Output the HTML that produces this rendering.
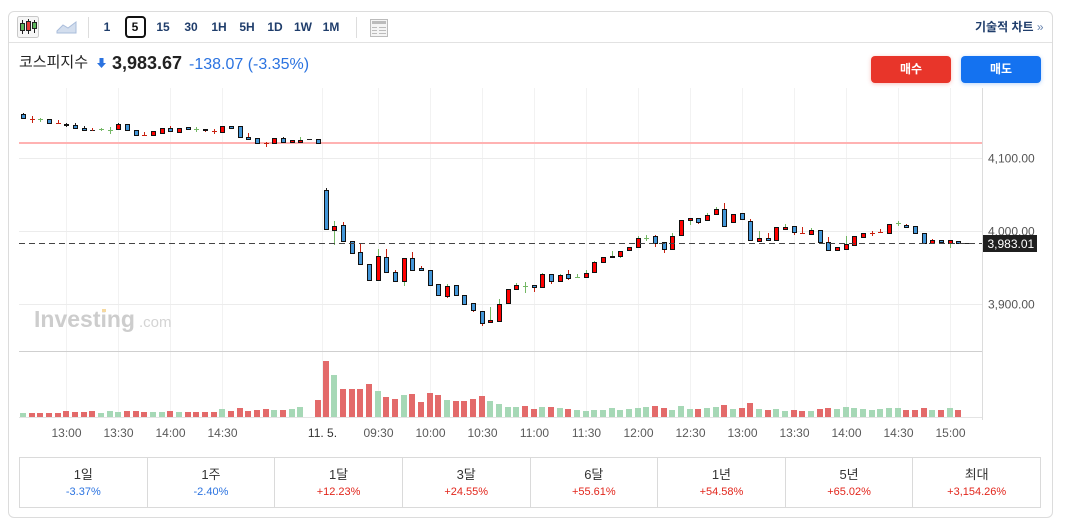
<!DOCTYPE html>
<html><head><meta charset="utf-8">
<style>
*{margin:0;padding:0;box-sizing:border-box}
body{width:1066px;height:527px;background:#fff;position:relative;overflow:hidden;font-family:"Liberation Sans","Noto Sans CJK KR",sans-serif}
.card{position:absolute;left:8px;top:11px;width:1045px;height:507px;border:1px solid #dcdcdc;border-radius:6px}
.tb{position:absolute;left:9px;top:42px;width:1043px;height:1px;background:#e2e2e2}
.t{position:absolute;font-weight:bold;font-size:12px;color:#1f3d6b;line-height:14px;top:20px;transform:translateX(-50%)}
.box5{position:absolute;left:125px;top:16px;width:21px;height:22px;border:2px solid #111;border-radius:4px}
.sep{position:absolute;top:17px;width:1px;height:21px;background:#ddd}
.btn{position:absolute;top:56px;width:80px;height:27px;border-radius:4px;color:#fff;font-weight:bold;font-size:12px;line-height:27px;text-align:center}
.tbl{position:absolute;left:19px;top:457px;width:1022px;height:51px;border:1px solid #dadada;display:flex}
.c{flex:1;border-left:1px solid #dadada;text-align:center}
.c:first-child{border-left:none}
.c .l{font-size:13px;color:#333;margin-top:9px;line-height:16px}
.c .p{font-size:11px;line-height:14px;margin-top:2px}
.bl{color:#2b73e0}.rd{color:#e2261c}
</style></head><body>
<div class="card"></div>
<div class="tb"></div>

<!-- toolbar -->
<svg style="position:absolute;left:17px;top:16px" width="22" height="22" viewBox="0 0 22 22">
<rect x="0.5" y="0.5" width="21" height="21" rx="2" fill="#f6f6f6" stroke="#c8c8c8"/>
<path d="M5.5 4V18M11.5 3V18M17.5 4V17" stroke="#222"/>
<rect x="3.5" y="7.5" width="4" height="7" fill="#5cb85c" stroke="#222"/>
<rect x="9.5" y="5.5" width="4" height="9" fill="#e53935" stroke="#222"/>
<rect x="15.5" y="6.5" width="4" height="6" fill="#5cb85c" stroke="#222"/>
</svg>
<svg style="position:absolute;left:56px;top:20px" width="22" height="14" viewBox="0 0 22 14">
<path d="M1 11L7 5L12 8L20 2V13H1Z" fill="#d3deee" stroke="#aabddb"/>
</svg>
<div class="sep" style="left:88px"></div>
<div class="t" style="left:107px">1</div>
<div class="box5"></div>
<div class="t" style="left:135px;color:#111">5</div>
<div class="t" style="left:163px">15</div>
<div class="t" style="left:191px">30</div>
<div class="t" style="left:219px">1H</div>
<div class="t" style="left:247px">5H</div>
<div class="t" style="left:275px">1D</div>
<div class="t" style="left:303px">1W</div>
<div class="t" style="left:331px">1M</div>
<div class="sep" style="left:356px"></div>
<svg style="position:absolute;left:370px;top:19px" width="18" height="18" viewBox="0 0 18 18">
<rect x="0.5" y="0.5" width="17" height="17" fill="#f4f4f4" stroke="#bbb"/>
<rect x="2" y="2" width="14" height="3" fill="#bbb"/>
<path d="M2 8.5H7M9 8.5H16M2 11.5H7M9 11.5H16M2 14.5H7M9 14.5H16" stroke="#bbb"/>
</svg>
<div style="position:absolute;left:975px;top:20px;font-size:12px;font-weight:bold;color:#1f3d6b;line-height:14px;white-space:nowrap">기술적 차트 <span style="font-weight:normal;color:#6a86b0">»</span></div>

<!-- header -->
<div style="position:absolute;left:19px;top:54px;font-size:15px;color:#222;line-height:18px">코스피지수</div>
<svg style="position:absolute;left:97px;top:57px" width="9" height="12" viewBox="0 0 9 12">
<rect x="2.5" y="1" width="4" height="6" fill="#2b73e0"/><path d="M0 6H9L4.5 11Z" fill="#2b73e0"/>
</svg>
<div style="position:absolute;left:112px;top:53px;font-size:18px;font-weight:bold;color:#222;line-height:21px">3,983.67</div>
<div style="position:absolute;left:189px;top:55px;font-size:16px;color:#2b73e0;line-height:19px">-138.07 (-3.35%)</div>
<div class="btn" style="left:871px;background:#e8352a;box-shadow:0 1px 4px rgba(232,53,42,.3)">매수</div>
<div class="btn" style="left:961px;background:#1472f0;box-shadow:0 1px 4px rgba(20,114,240,.3)">매도</div>

<!-- chart -->
<svg style="position:absolute;left:0;top:0" width="1066" height="527" viewBox="0 0 1066 527" font-family="Liberation Sans, sans-serif">
<g stroke="#f2f2f2" stroke-width="1">
<path d="M66.5 88V417M118.5 88V417M170.5 88V417M222.5 88V417M322.5 88V417M378.5 88V417M430.5 88V417M482.5 88V417M534.5 88V417M586.5 88V417M638.5 88V417M690.5 88V417M742.5 88V417M794.5 88V417M846.5 88V417M898.5 88V417M950.5 88V417"/>
</g>
<path d="M19 158.5H982M19 231.5H982M19 304.5H982" stroke="#ececec"/>
<text x="34" y="327" font-size="23" font-weight="bold" fill="#cdcdcd">Investing</text>
<rect x="102" y="309" width="4" height="3" fill="#f6d9a0"/>
<text x="139" y="327" font-size="15" fill="#d4d4d4">.com</text>
<path d="M19 143H982" stroke="#ffb2b2" stroke-width="2"/>
<path d="M19 351.5H982" stroke="#cfcfcf"/>
<path d="M19 417.5H982" stroke="#e4e4e4"/>
<path d="M982.5 88V420" stroke="#dcdcdc"/>

<!-- volume -->
<g fill="#a6d8b6">
<rect x="20" y="413" width="6" height="4"/><rect x="98" y="413" width="6" height="4"/><rect x="107" y="411" width="6" height="6"/><rect x="115" y="412" width="6" height="5"/><rect x="150" y="412" width="6" height="5"/><rect x="159" y="412" width="6" height="5"/><rect x="176" y="412" width="6" height="5"/><rect x="219" y="409" width="6" height="8"/><rect x="271" y="410" width="6" height="7"/><rect x="289" y="409" width="6" height="8"/><rect x="297" y="407" width="6" height="10"/>
<rect x="331" y="375" width="6" height="42"/><rect x="375" y="391" width="6" height="26"/><rect x="401" y="395" width="6" height="22"/><rect x="444" y="400" width="6" height="17"/><rect x="487" y="401" width="6" height="16"/><rect x="496" y="404" width="6" height="13"/><rect x="505" y="407" width="6" height="10"/><rect x="513" y="407" width="6" height="10"/><rect x="539" y="407" width="6" height="10"/><rect x="557" y="408" width="6" height="9"/><rect x="574" y="410" width="6" height="7"/><rect x="583" y="411" width="6" height="6"/><rect x="591" y="410" width="6" height="7"/><rect x="600" y="410" width="6" height="7"/><rect x="609" y="408" width="6" height="9"/><rect x="617" y="410" width="6" height="7"/><rect x="626" y="409" width="6" height="8"/><rect x="635" y="408" width="6" height="9"/><rect x="643" y="407" width="6" height="10"/><rect x="669" y="410" width="6" height="7"/><rect x="678" y="406" width="6" height="11"/><rect x="687" y="409" width="6" height="8"/><rect x="704" y="408" width="6" height="9"/><rect x="713" y="407" width="6" height="10"/><rect x="730" y="409" width="6" height="8"/><rect x="756" y="409" width="6" height="8"/><rect x="773" y="409" width="6" height="8"/><rect x="782" y="411" width="6" height="6"/><rect x="808" y="411" width="6" height="6"/><rect x="834" y="409" width="6" height="8"/><rect x="843" y="407" width="6" height="10"/><rect x="851" y="408" width="6" height="9"/><rect x="860" y="409" width="6" height="8"/><rect x="869" y="410" width="6" height="7"/><rect x="877" y="409" width="6" height="8"/><rect x="886" y="408" width="6" height="9"/><rect x="895" y="408" width="6" height="9"/><rect x="929" y="410" width="6" height="7"/><rect x="947" y="408" width="6" height="9"/>
</g>
<g fill="#e36a6a">
<rect x="29" y="413" width="6" height="4"/><rect x="37" y="413" width="6" height="4"/><rect x="46" y="413" width="6" height="4"/><rect x="55" y="413" width="6" height="4"/><rect x="63" y="411" width="6" height="6"/><rect x="72" y="412" width="6" height="5"/><rect x="81" y="412" width="6" height="5"/><rect x="89" y="411" width="6" height="6"/><rect x="124" y="411" width="6" height="6"/><rect x="133" y="411" width="6" height="6"/><rect x="141" y="412" width="6" height="5"/><rect x="167" y="411" width="6" height="6"/><rect x="185" y="412" width="6" height="5"/><rect x="193" y="412" width="6" height="5"/><rect x="202" y="412" width="6" height="5"/><rect x="211" y="412" width="6" height="5"/><rect x="228" y="411" width="6" height="6"/><rect x="237" y="408" width="6" height="9"/><rect x="245" y="411" width="6" height="6"/><rect x="254" y="410" width="6" height="7"/><rect x="263" y="409" width="6" height="8"/><rect x="280" y="410" width="6" height="7"/><rect x="315" y="400" width="6" height="17"/>
<rect x="323" y="361" width="6" height="56"/><rect x="340" y="389" width="6" height="28"/><rect x="349" y="389" width="6" height="28"/><rect x="357" y="389" width="6" height="28"/><rect x="366" y="384" width="6" height="33"/><rect x="383" y="397" width="6" height="20"/><rect x="392" y="399" width="6" height="18"/><rect x="409" y="394" width="6" height="23"/><rect x="418" y="402" width="6" height="15"/><rect x="427" y="393" width="6" height="24"/><rect x="435" y="395" width="6" height="22"/><rect x="453" y="401" width="6" height="16"/><rect x="461" y="401" width="6" height="16"/><rect x="470" y="399" width="6" height="18"/><rect x="479" y="396" width="6" height="21"/><rect x="522" y="406" width="6" height="11"/><rect x="531" y="409" width="6" height="8"/><rect x="548" y="407" width="6" height="10"/><rect x="565" y="409" width="6" height="8"/><rect x="652" y="406" width="6" height="11"/><rect x="661" y="408" width="6" height="9"/><rect x="695" y="409" width="6" height="8"/><rect x="721" y="405" width="6" height="12"/><rect x="739" y="408" width="6" height="9"/><rect x="747" y="403" width="6" height="14"/><rect x="765" y="410" width="6" height="7"/><rect x="791" y="410" width="6" height="7"/><rect x="799" y="411" width="6" height="6"/><rect x="817" y="409" width="6" height="8"/><rect x="825" y="408" width="6" height="9"/><rect x="903" y="410" width="6" height="7"/><rect x="912" y="410" width="6" height="7"/><rect x="921" y="408" width="6" height="9"/><rect x="938" y="410" width="6" height="7"/><rect x="955" y="410" width="6" height="7"/>
</g>

<!-- wicks -->
<path fill="none" stroke="#222" d="M66.5 123V127M75.5 123V128M84.5 126V130M90 130.5H95M118.5 123V129M231.5 126V129M283.5 137V142M307 139.5H312M326.5 188V230M964 243.5H971M23.5 113V119"/>
<path fill="none" stroke="#c8200f" d="M30 119.5H35M32.5 116V123M56 123.5H61M58.5 120V124M92.5 128V131M142 135.5H147M144.5 132V136M170.5 126V129M205.5 129V132M212 131.5H217M214.5 129V134M248.5 133V138M264 143.5H269M266.5 142V147M343.5 222V226M360.5 243V253M386.5 249V258M395.5 270V273M412.5 252V259M421.5 266V269M447.5 296V298M473.5 310V312M482.5 323V326M534.5 287V292M551.5 281V284M568.5 270V280M655.5 235V247M664.5 249V253M698.5 222V224M724.5 203V210M750.5 219V222M768.5 233V239M794.5 232V235M800 233.5H805M802.5 227V234M828.5 237V243M870 233.5H875M872.5 231V236M878 232.5H883M880.5 229V233M906.5 224V226M932.5 239V241"/>
<path fill="none" stroke="#74b865" d="M38 119.5H43M40.5 118V122M99 129.5H104M101.5 128V131M108 130.5H113M110.5 127V134M194 129.5H199M196.5 127V132M300.5 137V141M334.5 221V245M378.5 249V257M404.5 281V286M447.5 284V287M490.5 307V321M499.5 299V305M516.5 283V286M523 286.5H528M525.5 282V293M542.5 273V275M560.5 274V276M575 277.5H580M577.5 274V278M586.5 270V274M594.5 261V263M612.5 251V257M620.5 256V258M638.5 236V239M644 238.5H649M646.5 235V241M672.5 233V237M690.5 220V225M707.5 213V216M716.5 207V210M759.5 231V239M785.5 224V228M811.5 228V231M846.5 236V245M896 223.5H901M898.5 221V226M950.5 243V248"/>

<!-- blue bodies -->
<g fill="#4396d8" stroke="#111">
<rect x="21.5" y="114.5" width="4" height="4"/><rect x="47.5" y="119.5" width="4" height="4"/><rect x="64.5" y="124.5" width="4" height="1"/><rect x="73.5" y="125.5" width="4" height="3"/><rect x="82.5" y="128.5" width="4" height="2"/><rect x="125.5" y="124.5" width="4" height="6"/><rect x="134.5" y="130.5" width="4" height="5"/><rect x="168.5" y="128.5" width="4" height="3"/><rect x="186.5" y="127.5" width="4" height="2"/><rect x="203.5" y="129.5" width="4" height="1"/><rect x="229.5" y="126.5" width="4" height="2"/><rect x="238.5" y="126.5" width="4" height="11"/><rect x="246.5" y="137.5" width="4" height="2"/><rect x="255.5" y="138.5" width="4" height="5"/><rect x="281.5" y="138.5" width="4" height="4"/><rect x="316.5" y="139.5" width="4" height="4"/>
<rect x="324.5" y="190.5" width="4" height="39"/><rect x="341.5" y="225.5" width="4" height="16"/><rect x="350.5" y="241.5" width="4" height="12"/><rect x="358.5" y="252.5" width="4" height="12"/><rect x="367.5" y="264.5" width="4" height="16"/><rect x="384.5" y="257.5" width="4" height="15"/><rect x="393.5" y="272.5" width="4" height="9"/><rect x="410.5" y="258.5" width="4" height="12"/><rect x="419.5" y="268.5" width="4" height="2"/><rect x="428.5" y="270.5" width="4" height="15"/><rect x="436.5" y="284.5" width="4" height="11"/><rect x="454.5" y="285.5" width="4" height="10"/><rect x="462.5" y="295.5" width="4" height="9"/><rect x="471.5" y="303.5" width="4" height="7"/><rect x="480.5" y="311.5" width="4" height="12"/><rect x="532.5" y="285.5" width="4" height="2"/><rect x="549.5" y="274.5" width="4" height="7"/><rect x="566.5" y="274.5" width="4" height="4"/><rect x="610.5" y="256.5" width="4" height="1"/><rect x="653.5" y="236.5" width="4" height="7"/><rect x="662.5" y="242.5" width="4" height="7"/><rect x="696.5" y="218.5" width="4" height="4"/><rect x="722.5" y="209.5" width="4" height="17"/><rect x="740.5" y="213.5" width="4" height="6"/><rect x="748.5" y="221.5" width="4" height="19"/><rect x="766.5" y="238.5" width="4" height="2"/><rect x="792.5" y="226.5" width="4" height="6"/><rect x="818.5" y="230.5" width="4" height="12"/><rect x="826.5" y="242.5" width="4" height="8"/><rect x="904.5" y="225.5" width="4" height="2"/><rect x="913.5" y="226.5" width="4" height="7"/><rect x="922.5" y="233.5" width="4" height="10"/><rect x="939.5" y="240.5" width="4" height="2"/><rect x="956.5" y="241.5" width="4" height="2"/>
</g>
<!-- red bodies -->
<g fill="#f00" stroke="#111">
<rect x="116.5" y="124.5" width="4" height="5"/><rect x="151.5" y="131.5" width="4" height="4"/><rect x="160.5" y="128.5" width="4" height="5"/><rect x="177.5" y="128.5" width="4" height="4"/><rect x="220.5" y="126.5" width="4" height="6"/><rect x="272.5" y="138.5" width="4" height="5"/><rect x="290.5" y="140.5" width="4" height="2"/><rect x="298.5" y="140.5" width="4" height="2"/>
<rect x="332.5" y="226.5" width="4" height="4"/><rect x="376.5" y="256.5" width="4" height="24"/><rect x="402.5" y="258.5" width="4" height="23"/><rect x="445.5" y="286.5" width="4" height="10"/><rect x="488.5" y="320.5" width="4" height="2"/><rect x="497.5" y="304.5" width="4" height="17"/><rect x="506.5" y="289.5" width="4" height="14"/><rect x="514.5" y="285.5" width="4" height="4"/><rect x="540.5" y="274.5" width="4" height="13"/><rect x="558.5" y="275.5" width="4" height="6"/><rect x="584.5" y="273.5" width="4" height="4"/><rect x="592.5" y="262.5" width="4" height="10"/><rect x="601.5" y="257.5" width="4" height="5"/><rect x="618.5" y="251.5" width="4" height="5"/><rect x="627.5" y="247.5" width="4" height="3"/><rect x="636.5" y="238.5" width="4" height="9"/><rect x="670.5" y="236.5" width="4" height="13"/><rect x="679.5" y="220.5" width="4" height="15"/><rect x="688.5" y="218.5" width="4" height="2"/><rect x="705.5" y="215.5" width="4" height="5"/><rect x="714.5" y="209.5" width="4" height="5"/><rect x="731.5" y="214.5" width="4" height="8"/><rect x="757.5" y="238.5" width="4" height="3"/><rect x="774.5" y="227.5" width="4" height="13"/><rect x="783.5" y="227.5" width="4" height="2"/><rect x="809.5" y="230.5" width="4" height="4"/><rect x="835.5" y="247.5" width="4" height="3"/><rect x="844.5" y="244.5" width="4" height="5"/><rect x="852.5" y="236.5" width="4" height="9"/><rect x="861.5" y="233.5" width="4" height="4"/><rect x="887.5" y="224.5" width="4" height="9"/><rect x="930.5" y="240.5" width="4" height="3"/><rect x="948.5" y="240.5" width="4" height="3"/>
</g>

<path d="M19 243.5H982" stroke="#444" stroke-dasharray="6 4"/>

<!-- axis labels -->
<g font-size="12" fill="#555">
<text x="988" y="162.5">4,100.00</text>
<text x="988" y="235.5">4,000.00</text>
<text x="988" y="308.5">3,900.00</text>
</g>
<rect x="983" y="235" width="54" height="17" fill="#1f1f1f"/>
<text x="987.5" y="248" font-size="12" fill="#fff">3,983.01</text>

<g font-size="12" fill="#5a5a5a" text-anchor="middle">
<text x="66.5" y="437">13:00</text><text x="118.5" y="437">13:30</text><text x="170.5" y="437">14:00</text><text x="222.5" y="437">14:30</text>
<text x="322.5" y="437" fill="#333">11. 5.</text>
<text x="378.5" y="437">09:30</text><text x="430.5" y="437">10:00</text><text x="482.5" y="437">10:30</text><text x="534.5" y="437">11:00</text><text x="586.5" y="437">11:30</text><text x="638.5" y="437">12:00</text><text x="690.5" y="437">12:30</text><text x="742.5" y="437">13:00</text><text x="794.5" y="437">13:30</text><text x="846.5" y="437">14:00</text><text x="898.5" y="437">14:30</text><text x="950.5" y="437">15:00</text>
</g>
</svg>

<!-- period table -->
<div class="tbl">
<div class="c"><div class="l">1일</div><div class="p bl">-3.37%</div></div>
<div class="c"><div class="l">1주</div><div class="p bl">-2.40%</div></div>
<div class="c"><div class="l">1달</div><div class="p rd">+12.23%</div></div>
<div class="c"><div class="l">3달</div><div class="p rd">+24.55%</div></div>
<div class="c"><div class="l">6달</div><div class="p rd">+55.61%</div></div>
<div class="c"><div class="l">1년</div><div class="p rd">+54.58%</div></div>
<div class="c"><div class="l">5년</div><div class="p rd">+65.02%</div></div>
<div class="c"><div class="l">최대</div><div class="p rd">+3,154.26%</div></div>
</div>
</body></html>
